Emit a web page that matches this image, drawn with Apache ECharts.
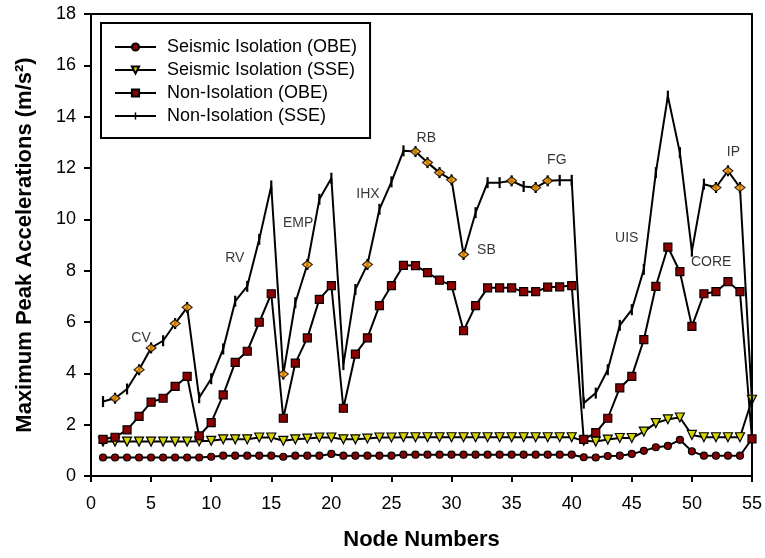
<!DOCTYPE html>
<html>
<head>
<meta charset="utf-8">
<script src="https://cdn.jsdelivr.net/npm/echarts@6/dist/echarts.min.js"></script>
<style>
  html, body { margin: 0; padding: 0; background: #fff; }
  #chart { width: 765px; height: 558px; }
</style>
</head>
<body>
<div id="chart"></div>
<script>
// node numbers along the x axis
var nodes = [1,2,3,4,5,6,7,8,9,10,11,12,13,14,15,16,17,18,19,20,
    21,22,23,24,25,26,27,28,29,30,31,32,33,34,35,36,37,38,39,40,
    41,42,43,44,45,46,47,48,49,50,51,52,53,54,55];

// Seismic Isolation (OBE)
var siObe = [0.72,0.72,0.72,0.72,0.72,0.72,0.72,0.72,0.72,0.75,
    0.79,0.79,0.79,0.79,0.79,0.75,0.79,0.79,0.79,0.86,
    0.79,0.79,0.79,0.79,0.79,0.83,0.83,0.83,0.83,0.83,
    0.83,0.83,0.83,0.83,0.83,0.83,0.83,0.83,0.83,0.83,
    0.73,0.72,0.78,0.79,0.86,0.98,1.12,1.17,1.41,0.96,
    0.79,0.79,0.79,0.79,1.45];

// Seismic Isolation (SSE)
var siSse = [1.34,1.34,1.34,1.34,1.34,1.34,1.34,1.34,1.35,1.37,
    1.43,1.43,1.43,1.50,1.50,1.37,1.43,1.46,1.50,1.50,
    1.43,1.43,1.46,1.50,1.50,1.51,1.51,1.51,1.51,1.51,
    1.51,1.51,1.51,1.51,1.51,1.51,1.51,1.51,1.51,1.51,
    1.37,1.34,1.42,1.48,1.48,1.73,2.06,2.21,2.28,1.60,
    1.51,1.51,1.51,1.51,2.97];

// Non-Isolation (OBE)
var niObe = [1.43,1.51,1.80,2.32,2.88,3.03,3.49,3.88,1.56,2.08,
    3.16,4.43,4.86,5.99,7.10,2.25,4.40,5.38,6.88,7.42,
    2.64,4.75,5.38,6.64,7.42,8.21,8.20,7.92,7.63,7.42,
    5.66,6.64,7.33,7.33,7.33,7.18,7.18,7.36,7.37,7.42,
    1.43,1.69,2.25,3.43,3.88,5.31,7.39,8.92,7.96,5.83,
    7.10,7.18,7.57,7.18,1.45];

// Non-Isolation (SSE)
var niSse = [2.90,3.03,3.39,4.14,4.99,5.27,5.94,6.57,3.05,3.79,
    4.95,6.81,7.39,9.22,11.30,3.97,6.75,8.24,10.78,11.60,
    4.34,7.27,8.24,10.39,11.46,12.67,12.64,12.21,11.82,11.54,
    8.63,10.26,11.43,11.43,11.50,11.28,11.24,11.50,11.52,11.52,
    2.84,3.23,4.14,5.87,6.48,8.05,11.82,14.80,12.60,8.76,
    11.37,11.24,11.89,11.24,2.90];

// nodes of the Non-Isolation (SSE) curve drawn with an orange diamond
var diamondNodes = [2,4,5,7,8,16,18,23,27,28,29,30,31,35,37,38,52,53,54];

// component labels and where they sit (node, acceleration)
var compNames = ['CV','RV','EMP','IHX','RB','SB','FG','UIS','CORE','IP'];
var compX = [4.16, 11.97, 17.23, 23.05, 27.9, 32.9, 38.76, 44.58, 51.6, 53.45];
var compY = [5.39, 8.48, 9.87, 10.98, 13.15, 8.8, 12.3, 9.25, 8.33, 12.63];

var yTicks = [0,2,4,6,8,10,12,14,16,18];

function pairs(vals) {
    return nodes.map(function (n, i) { return [n, vals[i]]; });
}

var FONT = 'Liberation Sans, Arial, sans-serif';
// thin vertical tick mark; empty corners keep it narrow in the legend too
var BAR = 'path://M0,0 M8,0 M0,8 M8,8 M3.2,0 L4.8,0 L4.8,8 L3.2,8 Z';

var chart = echarts.init(document.getElementById('chart'));
var option = {
    animation: false,
    grid: {
        left: 91, right: 12, top: 14, bottom: 82,
        show: true, borderColor: '#000', borderWidth: 2
    },
    legend: {
        data: ['Seismic Isolation (OBE)', 'Seismic Isolation (SSE)',
               'Non-Isolation (OBE)', 'Non-Isolation (SSE)'],
        orient: 'vertical',
        left: 101, top: 23,
        padding: [15, 13, 13, 13],
        borderColor: '#000', borderWidth: 2,
        backgroundColor: '#fff',
        itemWidth: 41, itemHeight: 9, itemGap: 5,
        textStyle: { fontFamily: FONT, fontSize: 18, color: '#000', lineHeight: 18, padding: [0, 0, 0, 6] }
    },
    xAxis: {
        type: 'value', min: 0, max: 55, interval: 5,
        name: 'Node Numbers', nameLocation: 'middle', nameGap: 53,
        nameTextStyle: { fontFamily: FONT, fontSize: 22, fontWeight: 'bold', color: '#000' },
        axisLine: { lineStyle: { color: '#000', width: 2 } },
        axisTick: { show: true, inside: false, length: 6, lineStyle: { color: '#000', width: 2 } },
        axisLabel: { fontFamily: FONT, fontSize: 18, color: '#000', margin: 19 },
        splitLine: { show: false }
    },
    yAxis: {
        type: 'value', min: yTicks[0], max: yTicks[yTicks.length - 1], interval: 2,
        name: 'Maximum Peak Accelerations (m/s\u00B2)', nameLocation: 'middle', nameGap: 55,
        nameTextStyle: { fontFamily: FONT, fontSize: 22, fontWeight: 'bold', color: '#000' },
        axisLine: { lineStyle: { color: '#000', width: 2 } },
        axisTick: { show: true, inside: false, length: 7, lineStyle: { color: '#000', width: 2 } },
        axisLabel: { fontFamily: FONT, fontSize: 18, color: '#000', margin: 15 },
        splitLine: { show: false }
    },
    series: [
        {
            name: 'Seismic Isolation (OBE)', type: 'line', data: pairs(siObe),
            symbol: 'circle', symbolSize: 7,
            lineStyle: { color: '#000', width: 2 },
            itemStyle: { color: '#8b0000', borderColor: '#000', borderWidth: 1.2 }
        },
        {
            name: 'Seismic Isolation (SSE)', type: 'line', data: pairs(siSse),
            symbol: 'triangle', symbolRotate: 180, symbolSize: 9,
            lineStyle: { color: '#000', width: 2 },
            itemStyle: { color: '#d4d400', borderColor: '#000', borderWidth: 1.2 }
        },
        {
            name: 'Non-Isolation (OBE)', type: 'line', data: pairs(niObe),
            symbol: 'rect', symbolSize: 8,
            lineStyle: { color: '#000', width: 2 },
            itemStyle: { color: '#8b0000', borderColor: '#000', borderWidth: 1.2 }
        },
        {
            name: 'Non-Isolation (SSE)', type: 'line', data: pairs(niSse),
            symbol: BAR, symbolSize: 11,
            lineStyle: { color: '#000', width: 2 },
            itemStyle: { color: '#000', borderWidth: 0 }
        },
        {
            name: 'diamonds', type: 'scatter',
            data: diamondNodes.map(function (n) { return [n, niSse[nodes.indexOf(n)]]; }),
            symbol: 'diamond', symbolSize: [10, 8],
            itemStyle: { color: '#ff9900', borderColor: '#000', borderWidth: 1.2 },
            z: 5
        },
        {
            name: 'components', type: 'scatter',
            data: compNames.map(function (c, i) { return { name: c, value: [compX[i], compY[i]] }; }),
            symbolSize: 1,
            itemStyle: { color: 'rgba(0,0,0,0)' },
            label: {
                show: true, position: 'inside',
                formatter: function (p) { return p.name; },
                fontFamily: FONT, fontSize: 14, color: '#000', textBorderWidth: 0
            },
            silent: true
        }
    ]
};
chart.setOption(option);
window.addEventListener('resize', chart.resize);
</script>
</body>
</html>
